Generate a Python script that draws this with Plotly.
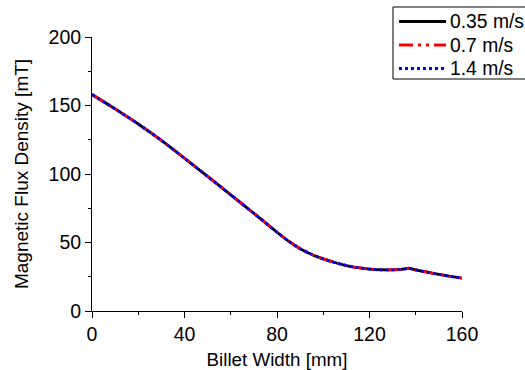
import plotly.graph_objects as go

width_mm = [0, 10, 20, 30, 40, 50, 60, 70, 80, 85, 90, 95, 100, 105, 110, 115, 120, 125, 130, 134, 137, 140, 145, 150, 155, 160]
b_035 = [158, 147.5, 136.5, 124.5, 111.5, 98.2, 84.8, 71.3, 57.5, 51, 45.5, 41.3, 38, 35.4, 33.2, 31.6, 30.6, 30.1, 30.0, 30.4, 31.2, 30.0, 28.3, 26.8, 25.3, 24]
b_07 = list(b_035)
b_14 = list(b_035)

series_names = ["0.35 m/s", "0.7 m/s", "1.4 m/s"]
series_data = [b_035, b_07, b_14]
series_colors = ["black", "red", "blue"]
series_dash = ["solid", "14px,5px,3px,5px,3px,5px", "3px,3px"]

fig = go.Figure()
for name, ys, col, dash in zip(series_names, series_data, series_colors, series_dash):
    fig.add_trace(go.Scatter(x=width_mm, y=ys, mode="lines", name=name,
                             line=dict(color=col, width=2.8, dash=dash,
                                       shape="spline", smoothing=0.6)))

font = "Liberation Sans, Arial, sans-serif"

# custom legend (paper coordinates)
shapes = [dict(type="rect", xref="paper", yref="paper", x0=0.8135, x1=1.19,
               y0=0.8467, y1=1.1095, line=dict(color="black", width=1),
               fillcolor="white", layer="above")]
annotations = []
row_y = [1.0566, 0.9708, 0.885]
for name, col, dash, ry in zip(series_names, series_colors, series_dash, row_y):
    shapes.append(dict(type="line", xref="paper", yref="paper", x0=0.8297, x1=0.9568,
                       y0=ry, y1=ry, line=dict(color=col, width=2.8, dash=dash), layer="above"))
    annotations.append(dict(xref="paper", yref="paper", x=0.9622, y=ry, text=name,
                            showarrow=False, xanchor="left", yanchor="middle",
                            font=dict(size=19.3, family=font, color="black")))

fig.update_layout(
    width=525, height=370,
    margin=dict(l=92, r=63, t=37, b=59, autoexpand=False),
    plot_bgcolor="white", paper_bgcolor="white",
    font=dict(family=font, size=18, color="black"),
    showlegend=False,
    shapes=shapes, annotations=annotations,
    xaxis=dict(range=[0, 160], tickvals=[0, 40, 80, 120, 160], automargin=False,
               showline=True, linecolor="black", linewidth=1,
               ticks="outside", ticklen=6, tickcolor="black",
               minor=dict(ticks="outside", ticklen=3, tickvals=[20, 60, 100, 140], tickcolor="black"),
               showgrid=False, zeroline=False,
               title=dict(text="Billet Width [mm]", font=dict(size=18.8), standoff=13),
               tickfont=dict(size=19.5)),
    yaxis=dict(range=[0, 200], tickvals=[0, 50, 100, 150, 200], automargin=False,
               showline=True, linecolor="black", linewidth=1,
               ticks="outside", ticklen=6, tickcolor="black",
               minor=dict(ticks="outside", ticklen=3, tickvals=[25, 75, 125, 175], tickcolor="black"),
               showgrid=False, zeroline=False,
               title=dict(text="Magnetic Flux Density [mT]", font=dict(size=19), standoff=14),
               tickfont=dict(size=19.5)),
)
fig.write_html("out.html")
